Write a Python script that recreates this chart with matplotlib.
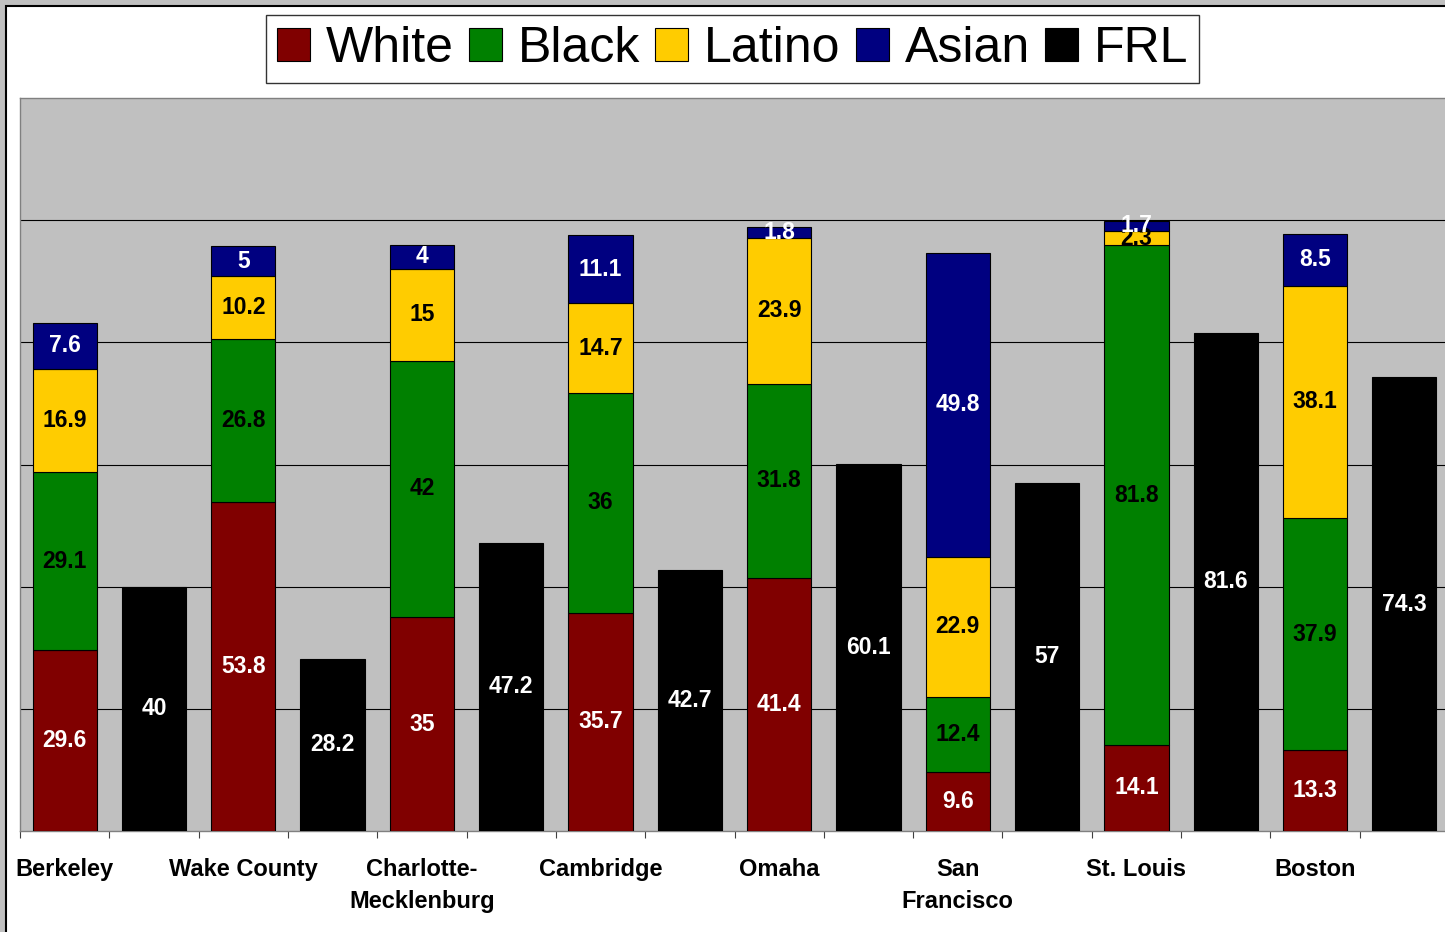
import numpy as np
import matplotlib.pyplot as plt
from matplotlib.patches import Rectangle

plt.rcParams['font.family'] = ['Liberation Sans', 'DejaVu Sans']

# district names and percentages
cities = ['Berkeley', 'Wake County', 'Charlotte-\nMecklenburg', 'Cambridge',
          'Omaha', 'San\nFrancisco', 'St. Louis', 'Boston']
white = [29.6, 53.8, 35, 35.7, 41.4, 9.6, 14.1, 13.3]
black = [29.1, 26.8, 42, 36, 31.8, 12.4, 81.8, 37.9]
latino = [16.9, 10.2, 15, 14.7, 23.9, 22.9, 2.3, 38.1]
asian = [7.6, 5, 4, 11.1, 1.8, 49.8, 1.7, 8.5]
frl = [40, 28.2, 47.2, 42.7, 60.1, 57, 81.6, 74.3]

W, H = 1445, 932
fig = plt.figure(figsize=(W / 100, H / 100), dpi=100, facecolor='#c0c0c0')
# white chart panel with black frame (screenshot look)
fig.add_artist(Rectangle((5.5 / W, -0.05), 1.1, (H - 5.5) / H + 0.05,
                         transform=fig.transFigure, facecolor='white',
                         edgecolor='black', lw=1.5, zorder=-10))

ax = fig.add_axes([20 / W, 101 / H, 1429 / W, 733 / H])
ax.set_facecolor('#c0c0c0')

x_st = np.arange(len(cities)) * 2
x_frl = x_st + 1
w = 0.72

series = [('White', white, '#800000', 'white'),
          ('Black', black, '#008000', 'black'),
          ('Latino', latino, '#FFCC00', 'black'),
          ('Asian', asian, '#000080', 'white')]

handles = []
bottom = np.zeros(len(cities))
for name, vals, col, tcol in series:
    bars = ax.bar(x_st, vals, w, bottom=bottom, color=col, edgecolor='black',
                  lw=0.8, zorder=3, label=name)
    ax.bar_label(bars, labels=[f'{v:g}' for v in vals], label_type='center',
                 color=tcol, fontsize=16.5, fontweight='bold', zorder=5)
    bottom += np.array(vals)
    handles.append(bars)

bars = ax.bar(x_frl, frl, w, color='black', edgecolor='black', lw=0.8,
              zorder=3, label='FRL')
ax.bar_label(bars, labels=[f'{v:g}' for v in frl], label_type='center',
             color='white', fontsize=16.5, fontweight='bold', zorder=5)
handles.append(bars)

ax.set_xlim(-0.5, 15.5)
ax.set_ylim(0, 120)

ax.set_yticks([20, 40, 60, 80, 100])
ax.set_yticklabels([])
ax.tick_params(axis='y', length=0)
ax.yaxis.grid(True, color='black', lw=0.8, zorder=1)
ax.set_axisbelow(True)

ax.set_xticks(np.arange(-0.5, 16, 1))
ax.set_xticklabels([])
ax.tick_params(axis='x', which='major', length=5, width=0.8, color='#404040')
ax.set_xticks(x_st, minor=True)
ax.set_xticklabels(cities, minor=True, fontsize=17, fontweight='bold',
                   linespacing=1.5)
ax.tick_params(axis='x', which='minor', length=0, pad=19.5)

for s in ax.spines.values():
    s.set_color('#808080')
    s.set_linewidth(1)

leg = fig.legend(handles, [h.get_label() for h in handles], loc='center',
                 bbox_to_anchor=(0.507, 0.9475), ncol=5, fontsize=36,
                 frameon=True, fancybox=False, edgecolor='black',
                 handlelength=0.66, handleheight=0.66, handletextpad=0.32,
                 columnspacing=0.3, borderpad=0.22, borderaxespad=0)
leg.get_frame().set_linewidth(1)

fig.savefig('out.png', dpi=100, facecolor=fig.get_facecolor())
